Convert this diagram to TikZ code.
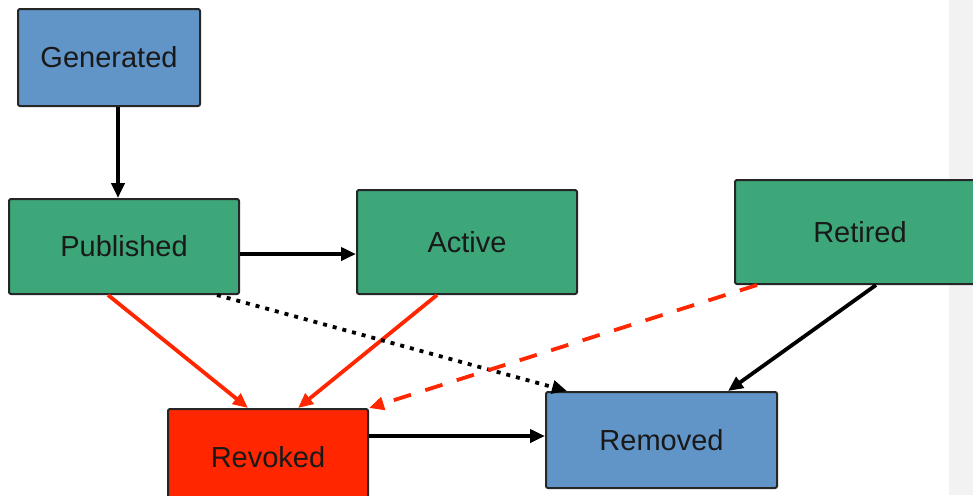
\documentclass[tikz,border=0pt]{standalone}
\usepackage{fontspec}
\setmainfont{Liberation Sans}
\usetikzlibrary{arrows.meta}
\definecolor{stblue}{RGB}{97,149,200}
\definecolor{stgreen}{RGB}{61,167,122}
\definecolor{stred}{RGB}{255,38,0}
\definecolor{strip}{RGB}{242,242,242}
\tikzset{
  state/.style={draw=black!85, line width=1pt, rounded corners=1pt, inner sep=0pt,
    font=\fontsize{14.5}{17}\selectfont, text=black!90},
  blk/.style={line width=1.9pt, -{Triangle[length=7.5pt,width=6.5pt]}},
  redarr/.style={stred, line width=1.9pt, -{Triangle[length=7.5pt,width=6.5pt]}},
}
\begin{document}
\begin{tikzpicture}[x=0.5pt,y=-0.5pt]
  \useasboundingbox (0,0) rectangle (973,495);
  \fill[strip] (949,0) rectangle (973,495);
  \node[state, fill=stblue,  minimum width=91pt,  minimum height=48.5pt] (gen) at (109,57.5) {Generated};
  \node[state, fill=stgreen, minimum width=115pt, minimum height=47.5pt] (pub) at (124,246.5) {Published};
  \node[state, fill=stgreen, minimum width=110pt, minimum height=52pt]   (act) at (467,242) {Active};
  \node[state, fill=stgreen, minimum width=125pt, minimum height=52pt]   (ret) at (860,232) {Retired};
  \node[state, fill=stred,   minimum width=100pt, minimum height=48pt]   (rev) at (268,457) {Revoked};
  \node[state, fill=stblue,  minimum width=115.5pt, minimum height=48pt] (rem) at (661.5,440) {Removed};
  \coordinate (g1) at ([xshift=4.5pt]gen.south);
  \coordinate (p1) at ([yshift=-3.75pt]pub.east);
  \coordinate (r1) at ([yshift=10.5pt]rev.east);
  \draw[blk] (g1) -- (g1 |- pub.north);
  \draw[blk] (p1) -- (p1 -| act.west);
  \draw[redarr] ([xshift=-8pt]pub.south) -- ([xshift=-10pt]rev.north);
  \draw[redarr] ([xshift=-15pt]act.south) -- ([xshift=15pt]rev.north);
  \draw[blk, dash pattern=on 2pt off 3pt] ([xshift=46.5pt]pub.south) -- ([xshift=-47.25pt]rem.north);
  \draw[redarr, dash pattern=on 9pt off 7.5pt] ([xshift=-51.5pt]ret.south) -- (rev.north east);
  \draw[blk] ([xshift=8pt]ret.south) -- ([xshift=33.25pt]rem.north);
  \draw[blk] (r1) -- (r1 -| rem.west);
\end{tikzpicture}
\end{document}
